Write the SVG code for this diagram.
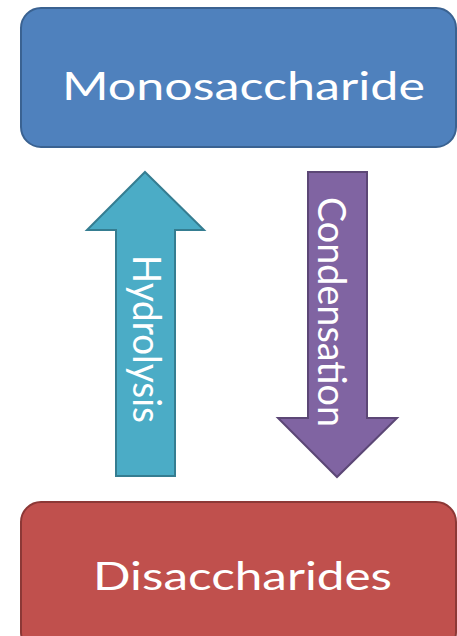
<svg xmlns="http://www.w3.org/2000/svg" width="457" height="636" viewBox="0 0 457 636">
<style>
.lbl{font-family:Lato,"Liberation Sans",sans-serif;font-size:39px;fill:#ffffff;}
.box{stroke-width:2;}
.arr{stroke-width:2;stroke-linejoin:miter;}
</style>
<rect width="457" height="636" fill="#ffffff"/>
<g id="monosaccharide">
<rect class="box" x="21" y="8" width="435" height="139" rx="20" fill="#4f81bd" stroke="#3a6291"/>
<text class="lbl" x="62" y="100" textLength="363" lengthAdjust="spacingAndGlyphs">Monosaccharide</text>
</g>
<g id="disaccharides">
<rect class="box" x="21" y="502" width="435" height="150" rx="20" fill="#c0504d" stroke="#8c3836"/>
<text class="lbl" x="93" y="590" textLength="299" lengthAdjust="spacingAndGlyphs">Disaccharides</text>
</g>
<g id="connectors">
<g id="hydrolysis">
<polygon class="arr" points="145,172 204,230 175,230 175,476 116,476 116,230 87,230" fill="#4bacc6" stroke="#357d91"/>
<text class="lbl" transform="translate(133,255) rotate(90)" x="0" y="0" textLength="168" lengthAdjust="spacingAndGlyphs">Hydrolysis</text>
</g>
<g id="condensation">
<polygon class="arr" points="308,172 367,172 367,418 397,418 337,477 278,418 308,418" fill="#8064a2" stroke="#5c4776"/>
<text class="lbl" transform="translate(318,197) rotate(90)" x="0" y="0" textLength="230" lengthAdjust="spacingAndGlyphs">Condensation</text>
</g>
</g>
</svg>
